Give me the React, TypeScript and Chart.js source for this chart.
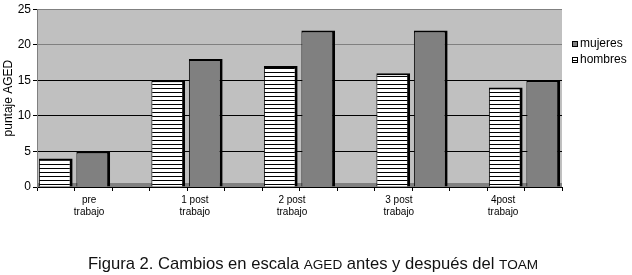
import React, { useEffect, useRef } from "react";
import { Chart, registerables } from "chart.js";

Chart.register(...registerables);

const groups: string[][] = [
  ["pre", "trabajo"],
  ["1 post", "trabajo"],
  ["2 post", "trabajo"],
  ["3 post", "trabajo"],
  ["4post", "trabajo"],
];
const hombres = [4, 15, 17, 16, 14];
const mujeres = [5, 18, 22, 22, 15];
const yTicks = [0, 5, 10, 15, 20, 25];
const yTitle = "puntaje AGED";
const legendLabels = ["mujeres", "hombres"];
const captionParts: [string, boolean][] = [
  ["Figura 2. Cambios en escala ", false],
  ["AGED", true],
  [" antes y después del ", false],
  ["TOAM", true],
];

const FONT = "'Liberation Sans', Arial, sans-serif";
const GREY = "#808080";
const PLOT_BG = "#c0c0c0";

function makeStripe(): CanvasPattern | string {
  const c = document.createElement("canvas");
  c.width = 4;
  c.height = 4;
  const g = c.getContext("2d");
  if (!g) return "#fff";
  g.fillStyle = "#fff";
  g.fillRect(0, 0, 4, 4);
  g.fillStyle = "#000";
  g.fillRect(0, 0, 4, 1);
  const p = g.createPattern(c, "repeat");
  return p || "#fff";
}

export default function App() {
  const ref = useRef<HTMLCanvasElement | null>(null);

  useEffect(() => {
    document.body.style.margin = "0";
    const canvas = ref.current;
    if (!canvas) return;
    const stripe = makeStripe();

    // build slot layout: hombres, mujeres, gap per group (no gap after last)
    const labels: string[] = [];
    const hData: (number | null)[] = [];
    const mData: (number | null)[] = [];
    groups.forEach((g, i) => {
      labels.push(g.join(" ") + " H");
      hData.push(hombres[i]);
      mData.push(null);
      labels.push(g.join(" ") + " M");
      hData.push(null);
      mData.push(mujeres[i]);
      if (i < groups.length - 1) {
        labels.push("");
        hData.push(null);
        mData.push(null);
      }
    });

    const labelPos = [0.89, 3.71, 6.3, 9.15, 11.93];

    const bgPlugin = {
      id: "bgPlugin",
      beforeDraw(chart: any) {
        const { ctx, chartArea: a } = chart;
        ctx.save();
        ctx.fillStyle = "#fff";
        ctx.fillRect(0, 0, chart.width, chart.height);
        ctx.fillStyle = PLOT_BG;
        ctx.fillRect(a.left, a.top, a.right - a.left, a.bottom - a.top);
        ctx.restore();
      },
      beforeDatasetsDraw(chart: any) {
        const { ctx, chartArea: a } = chart;
        ctx.save();
        ctx.fillStyle = GREY;
        ctx.fillRect(a.left, a.bottom - 4, a.right - a.left, 4);
        ctx.restore();
      },
      afterDraw(chart: any) {
        const { ctx } = chart;
        const xs = chart.scales.x;
        ctx.save();
        ctx.fillStyle = "#000";
        ctx.textAlign = "center";
        ctx.textBaseline = "middle";
        ctx.font = `10px ${FONT}`;
        groups.forEach((g, i) => {
          const x = xs.getPixelForValue(labelPos[i]);
          g.forEach((line, j) => {
            ctx.fillText(line, x, 200 + j * 12.5);
          });
        });
        // legend
        const legendFill = [GREY, stripe];
        ctx.textAlign = "left";
        ctx.font = `12px ${FONT}`;
        legendLabels.forEach((t, i) => {
          const y = 44 + i * 16;
          ctx.fillStyle = legendFill[i];
          ctx.fillRect(572, y - 3, 6, 6);
          ctx.strokeStyle = "#000";
          ctx.lineWidth = 1;
          ctx.strokeRect(572.5, y - 2.5, 5, 5);
          ctx.fillStyle = "#000";
          ctx.fillText(t, 580, y);
        });
        // caption
        const big = `16.6px ${FONT}`;
        const small = `13.6px ${FONT}`;
        let total = 0;
        captionParts.forEach(([t, s]) => {
          ctx.font = s ? small : big;
          total += ctx.measureText(t).width;
        });
        let x = 313 - total / 2;
        ctx.textBaseline = "alphabetic";
        ctx.fillStyle = "#111";
        captionParts.forEach(([t, s]) => {
          ctx.font = s ? small : big;
          ctx.fillText(t, x, 269);
          x += ctx.measureText(t).width;
        });
        ctx.restore();
      },
    };

    const chart = new Chart(canvas, {
      type: "bar",
      data: {
        labels,
        datasets: [
          {
            label: "hombres",
            data: hData,
            backgroundColor: stripe as any,
            borderColor: "#000",
            borderWidth: { top: 2, right: 3, left: 1, bottom: 0 } as any,
            skipNull: true,
            barPercentage: 0.9,
            categoryPercentage: 1,
          },
          {
            label: "mujeres",
            data: mData,
            backgroundColor: GREY,
            borderColor: "#000",
            borderWidth: { top: 2, right: 3, left: 1, bottom: 0 } as any,
            skipNull: true,
            barPercentage: 0.9,
            categoryPercentage: 1,
          },
        ],
      },
      options: {
        animation: false,
        responsive: false,
        maintainAspectRatio: false,
        layout: { padding: { top: 8, right: 70, left: 0, bottom: 0 } },
        plugins: {
          legend: { display: false },
          tooltip: { enabled: false },
        },
        scales: {
          x: {
            ticks: { display: false },
            grid: {
              drawOnChartArea: false,
              drawTicks: true,
              tickLength: 4,
              color: "#000",
              offset: true,
            },
            border: { display: true, color: "#000" },
            afterFit(s: any) {
              s.height = 88;
            },
          },
          y: {
            min: 0,
            max: 25,
            afterBuildTicks(s: any) {
              s.ticks = yTicks.map((v) => ({ value: v }));
            },
            ticks: {
              color: "#000",
              font: { family: FONT, size: 12 },
              padding: 2,
            },
            grid: {
              color: (c: any) => (c.tick && c.tick.value >= 20 ? GREY : "#000"),
              tickColor: "#000",
              tickLength: 4,
            },
            border: { display: true, color: GREY },
            title: {
              display: true,
              text: yTitle,
              color: "#000",
              font: { family: FONT, size: 12 },
              padding: { top: 1, bottom: 0 },
            },
            afterFit(s: any) {
              s.width = 37;
            },
          },
        },
      },
      plugins: [bgPlugin],
    });
    return () => chart.destroy();
  }, []);

  return <canvas ref={ref} width={632} height={275} style={{ display: "block" }} />;
}
